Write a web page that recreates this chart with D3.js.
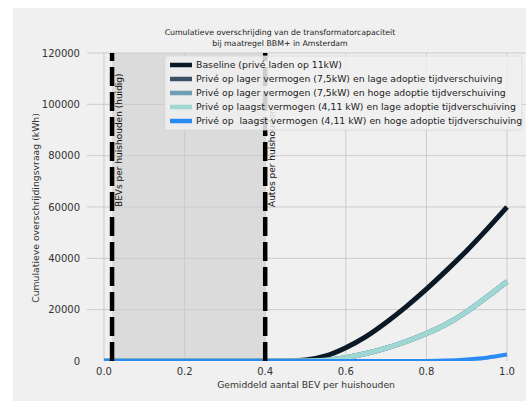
<!DOCTYPE html>
<html>
<head>
<meta charset="utf-8">
<script src="https://cdn.jsdelivr.net/npm/d3@7"></script>
<style>
  body { margin: 0; background: #fff; }
  svg { display: block; font-family: "DejaVu Sans", sans-serif; }
</style>
</head>
<body>
<div id="graph"></div>
<script>
// data
const bevShare = [0, 0.4, 0.45, 0.5, 0.55, 0.6, 0.65, 0.7, 0.75, 0.8, 0.85, 0.9, 0.95, 1.0];
const baseline      = [0, 0, 0, 400, 2000, 5200, 9500, 15000, 21200, 28000, 35300, 43000, 51300, 60000];
const lagerLaag     = [0, 0, 0, 0, 300, 1300, 2900, 5000, 7600, 10700, 14400, 19200, 24900, 31000];
const lagerHoog     = [0, 0, 0, 0, 300, 1300, 2900, 5000, 7600, 10700, 14400, 19200, 24900, 31000];
const laagstLaag    = [0, 0, 0, 0, 300, 1300, 2900, 5000, 7600, 10700, 14400, 19200, 24900, 31000];
const laagstHoog    = [0, 0, 0, 0, 0, 0, 0, 0, 0, 0, 150, 600, 1300, 2500];

const seriesNames = [
  "Baseline (privé laden op 11kW)",
  "Privé op lager vermogen (7,5kW) en lage adoptie tijdverschuiving",
  "Privé op lager vermogen (7,5kW) en hoge adoptie tijdverschuiving",
  "Privé op laagst vermogen (4,11 kW) en lage adoptie tijdverschuiving",
  "Privé op  laagst vermogen (4,11 kW) en hoge adoptie tijdverschuiving"
];
const seriesValues = [baseline, lagerLaag, lagerHoog, laagstLaag, laagstHoog];
const seriesColors = ["#0b1826", "#3b5168", "#6f9db6", "#9fd8d3", "#2a8bf2"];
const seriesWidths = [5, 5, 5, 5, 4];

const xTicks = [0, 0.2, 0.4, 0.6, 0.8, 1.0];
const yTicks = [0, 20000, 40000, 60000, 80000, 100000, 120000];
const markers = [{x: 0.02, label: "BEVs per huishouden (huidig)"}, {x: 0.4, label: "Autos per huishouden"}];

const W = 526, H = 401;
const plotRight = 526;

const svg = d3.select("#graph").append("svg")
  .attr("width", W).attr("height", H);

// figure background
svg.append("rect").attr("x", 13).attr("y", 8).attr("width", W - 13).attr("height", H - 8)
  .attr("fill", "#f0f0f0");

let x = d3.scaleLinear().domain([0, 1]).range([104, 507]);
let y = d3.scaleLinear().domain([0, 120000]).range([361, 53]);

svg.append("defs").append("clipPath").attr("id", "clip")
  .append("rect").attr("x", 104).attr("y", 53).attr("width", plotRight - 104).attr("height", 361 - 53);

const plot = svg.append("g");

// shaded span between the two markers
plot.append("rect")
  .attr("x", x(0.02)).attr("y", y(120000))
  .attr("width", x(0.4) - x(0.02)).attr("height", y(0) - y(120000))
  .attr("fill", "#dbdbdb");

// grid
plot.append("g").selectAll("line").data(yTicks.filter(d => d > 0)).join("line")
  .attr("x1", 87).attr("x2", plotRight)
  .attr("y1", d => y(d)).attr("y2", d => y(d))
  .attr("stroke", "#cbcbcb").attr("stroke-width", 1);
plot.append("g").selectAll("line").data(xTicks).join("line")
  .attr("x1", d => x(d)).attr("x2", d => x(d))
  .attr("y1", y(120000)).attr("y2", y(0))
  .attr("stroke", "#cbcbcb").attr("stroke-width", 1);

// tick labels
svg.append("g").selectAll("text").data(yTicks).join("text")
  .attr("x", 80).attr("y", d => y(d)).attr("dy", "0.35em")
  .attr("text-anchor", "end").attr("font-size", 10).attr("fill", "#333")
  .text(d => d);
svg.append("g").selectAll("text").data(xTicks).join("text")
  .attr("x", d => x(d)).attr("y", 375)
  .attr("text-anchor", "middle").attr("font-size", 10).attr("fill", "#333")
  .text(d => d.toFixed(1));

// axis labels
svg.append("text").attr("x", 306).attr("y", 388)
  .attr("text-anchor", "middle").attr("font-size", 9.2).attr("fill", "#333")
  .text("Gemiddeld aantal BEV per huishouden");
svg.append("text").attr("transform", "translate(39,208) rotate(-90)")
  .attr("text-anchor", "middle").attr("font-size", 9.3).attr("fill", "#333")
  .text("Cumulatieve overschrijdingsvraag (kWh)");

// title
svg.append("text").attr("x", 280).attr("y", 35)
  .attr("text-anchor", "middle").attr("font-size", 7.8).attr("fill", "#222")
  .text("Cumulatieve overschrijding van de transformatorcapaciteit");
svg.append("text").attr("x", 280).attr("y", 46)
  .attr("text-anchor", "middle").attr("font-size", 7.8).attr("fill", "#222")
  .text("bij maatregel BBM+ in Amsterdam");

// series lines
const line = d3.line()
  .x((d, i) => x(bevShare[i]))
  .y(d => y(d))
  .curve(d3.curveMonotoneX);

const lines = svg.append("g").attr("clip-path", "url(#clip)");
seriesValues.forEach((vals, i) => {
  lines.append("path")
    .attr("d", line(vals))
    .attr("fill", "none")
    .attr("stroke", seriesColors[i])
    .attr("stroke-width", seriesWidths[i])
    .attr("stroke-linejoin", "round");
});

// vertical markers
markers.forEach(m => {
  lines.append("line")
    .attr("x1", x(m.x)).attr("x2", x(m.x))
    .attr("y1", y(0)).attr("y2", y(120000))
    .attr("stroke", "#000").attr("stroke-width", 4.5)
    .attr("stroke-dasharray", "19,6");
  svg.append("text")
    .attr("transform", `translate(${x(m.x) + 10},${y(60000)}) rotate(-90)`)
    .attr("font-size", 9).attr("fill", "#111")
    .text(m.label);
});

// legend
const legend = svg.append("g").attr("transform", "translate(165,56)");
legend.append("rect").attr("width", 357).attr("height", 74)
  .attr("rx", 2).attr("fill", "#f0f0f0").attr("fill-opacity", 0.85)
  .attr("stroke", "#d8d8d8").attr("stroke-width", 0.8);
seriesNames.forEach((name, i) => {
  const g = legend.append("g").attr("transform", `translate(0,${9 + i * 14})`);
  g.append("line").attr("x1", 5).attr("x2", 27).attr("y1", 0).attr("y2", 0)
    .attr("stroke", seriesColors[i]).attr("stroke-width", 4.5);
  g.append("text").attr("x", 31).attr("y", 0).attr("dy", "0.35em")
    .attr("font-size", 9.3).attr("fill", "#222")
    .style("white-space", "pre")
    .text(name);
});
</script>
</body>
</html>
